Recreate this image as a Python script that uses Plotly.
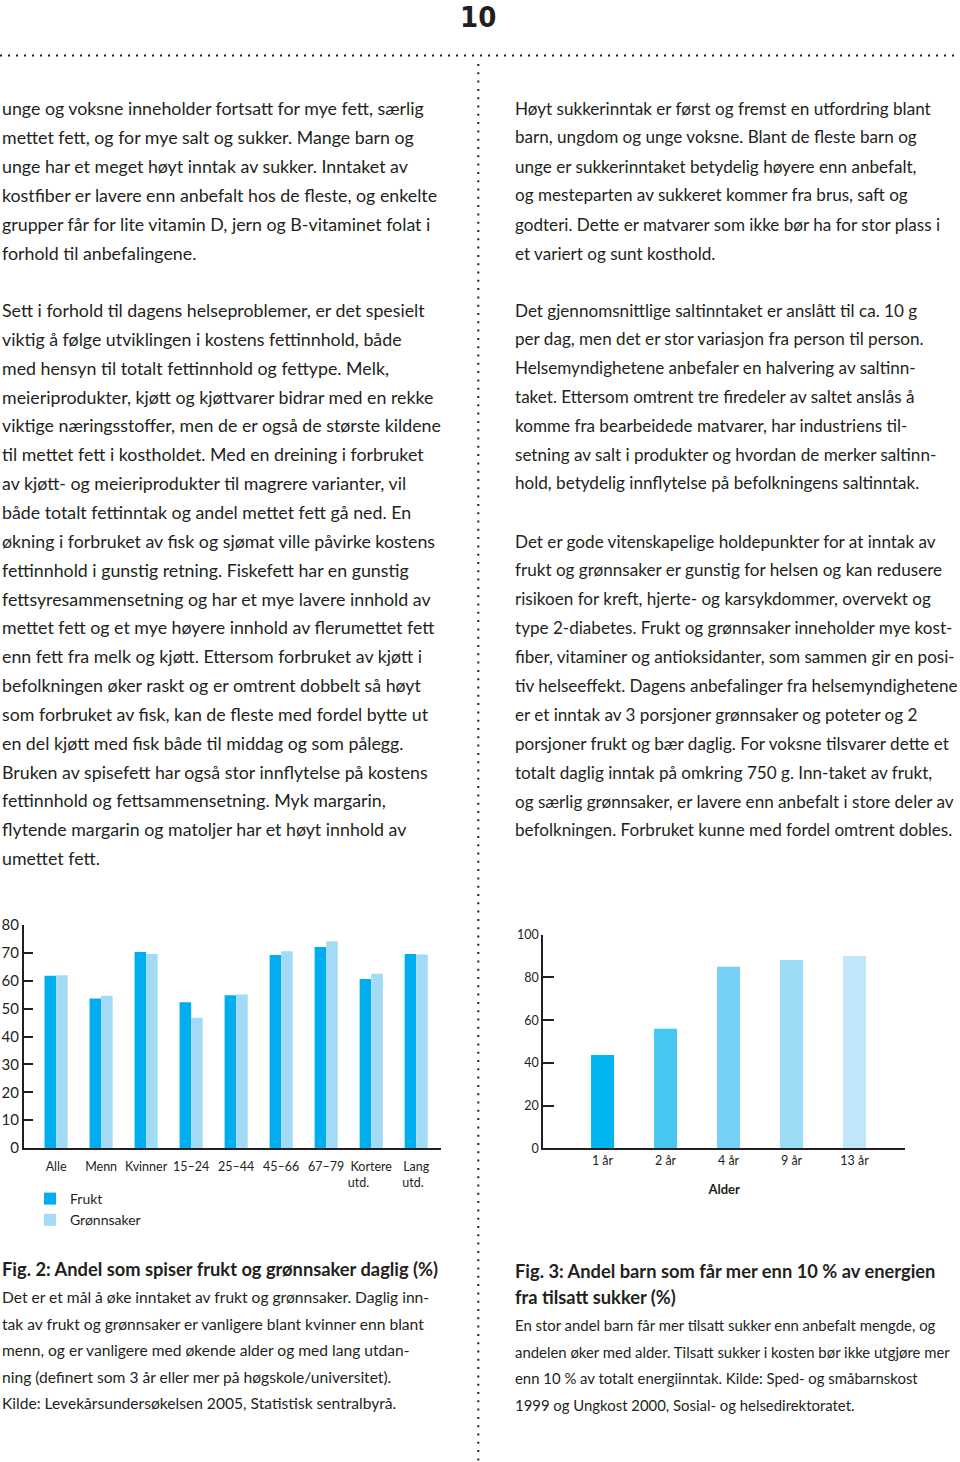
import plotly.graph_objects as go

# ---------------- data ----------------
# Fig. 2: Andel som spiser frukt og grønnsaker daglig (%)
NB = "\u00a0"
groups = ["Alle", "Menn", "Kvinner", "15–24", "25–44", "45–66", "67–79",
          "Kortere<br>utd." + NB * 8, "Lang<br>utd." + NB * 2]
frukt = [61.8, 53.6, 70.3, 52.3, 54.8, 69.2, 72.1, 60.6, 69.6]
gronnsaker = [62.0, 54.6, 69.6, 46.7, 55.1, 70.6, 74.2, 62.5, 69.4]
fig2_yticks = [0, 10, 20, 30, 40, 50, 60, 70, 80]

# Fig. 3: Andel barn som får mer enn 10 % av energien fra tilsatt sukker (%)
ages = ["1 år", "2 år", "4 år", "9 år", "13 år"]
sugar_share = [43.7, 56.0, 85.0, 88.1, 90.0]
fig3_yticks = [0, 20, 40, 60, 80, 100]

# ---------------- text ----------------
left_a = [
    "unge og voksne inneholder fortsatt for mye fett, særlig",
    "mettet fett, og for mye salt og sukker. Mange barn og",
    "unge har et meget høyt inntak av sukker. Inntaket av",
    "kostfiber er lavere enn anbefalt hos de fleste, og enkelte",
    "grupper får for lite vitamin D, jern og B-vitaminet folat i",
    "forhold til anbefalingene.",
]
left_b = [
    "Sett i forhold til dagens helseproblemer, er det spesielt",
    "viktig å følge utviklingen i kostens fettinnhold, både",
    "med hensyn til totalt fettinnhold og fettype. Melk,",
    "meieriprodukter, kjøtt og kjøttvarer bidrar med en rekke",
    "viktige næringsstoffer, men de er også de største kildene",
    "til mettet fett i kostholdet. Med en dreining i forbruket",
    "av kjøtt- og meieriprodukter til magrere varianter, vil",
    "både totalt fettinntak og andel mettet fett gå ned. En",
    "økning i forbruket av fisk og sjømat ville påvirke kostens",
    "fettinnhold i gunstig retning. Fiskefett har en gunstig",
    "fettsyresammensetning og har et mye lavere innhold av",
    "mettet fett og et mye høyere innhold av flerumettet fett",
    "enn fett fra melk og kjøtt. Ettersom forbruket av kjøtt i",
    "befolkningen øker raskt og er omtrent dobbelt så høyt",
    "som forbruket av fisk, kan de fleste med fordel bytte ut",
    "en del kjøtt med fisk både til middag og som pålegg.",
    "Bruken av spisefett har også stor innflytelse på kostens",
    "fettinnhold og fettsammensetning. Myk margarin,",
    "flytende margarin og matoljer har et høyt innhold av",
    "umettet fett.",
]
right_a = [
    "Høyt sukkerinntak er først og fremst en utfordring blant",
    "barn, ungdom og unge voksne. Blant de fleste barn og",
    "unge er sukkerinntaket betydelig høyere enn anbefalt,",
    "og mesteparten av sukkeret kommer fra brus, saft og",
    "godteri. Dette er matvarer som ikke bør ha for stor plass i",
    "et variert og sunt kosthold.",
]
right_b = [
    "Det gjennomsnittlige saltinntaket er anslått til ca. 10 g",
    "per dag, men det er stor variasjon fra person til person.",
    "Helsemyndighetene anbefaler en halvering av saltinn-",
    "taket. Ettersom omtrent tre firedeler av saltet anslås å",
    "komme fra bearbeidede matvarer, har industriens til-",
    "setning av salt i produkter og hvordan de merker saltinn-",
    "hold, betydelig innflytelse på befolkningens saltinntak.",
]
right_c = [
    "Det er gode vitenskapelige holdepunkter for at inntak av",
    "frukt og grønnsaker er gunstig for helsen og kan redusere",
    "risikoen for kreft, hjerte- og karsykdommer, overvekt og",
    "type 2-diabetes. Frukt og grønnsaker inneholder mye kost-",
    "fiber, vitaminer og antioksidanter, som sammen gir en posi-",
    "tiv helseeffekt. Dagens anbefalinger fra helsemyndighetene",
    "er et inntak av 3 porsjoner grønnsaker og poteter og 2",
    "porsjoner frukt og bær daglig. For voksne tilsvarer dette et",
    "totalt daglig inntak på omkring 750 g. Inn-taket av frukt,",
    "og særlig grønnsaker, er lavere enn anbefalt i store deler av",
    "befolkningen. Forbruket kunne med fordel omtrent dobles.",
]
cap2_title = ["Fig. 2: Andel som spiser frukt og grønnsaker daglig (%)"]
cap2_body = [
    "Det er et mål å øke inntaket av frukt og grønnsaker. Daglig inn-",
    "tak av frukt og grønnsaker er vanligere blant kvinner enn blant",
    "menn, og er vanligere med økende alder og med lang utdan-",
    "ning (definert som 3 år eller mer på høgskole/universitet).",
    "Kilde: Levekårsundersøkelsen 2005, Statistisk sentralbyrå.",
]
cap3_title = [
    "Fig. 3: Andel barn som får mer enn 10 % av energien",
    "fra tilsatt sukker (%)",
]
cap3_body = [
    "En stor andel barn får mer tilsatt sukker enn anbefalt mengde, og",
    "andelen øker med alder. Tilsatt sukker i kosten bør ikke utgjøre mer",
    "enn 10 % av totalt energiinntak. Kilde: Sped- og småbarnskost",
    "1999 og Ungkost 2000, Sosial- og helsedirektoratet.",
]

# ---------------- layout helpers ----------------
W, H = 960, 1462
FONT = "Lato, 'Noto Sans', sans-serif"
INK = "#231f20"
C_FRUKT = "#00aeef"
C_GRONN = "#a3dbf6"
sugar_colors = ["#00b5ef", "#45c7f2", "#74d0f4", "#9cdaf6", "#bfe6f9"]


def px(x):
    return x / W


def py(y):
    return 1 - y / H


fig = go.Figure()

# Fig. 2 bars
xpos1 = list(range(len(groups)))
bw1 = 0.257
fig.add_trace(go.Bar(x=xpos1, y=frukt, name="Frukt", marker_color=C_FRUKT,
                     width=bw1, offset=-bw1, xaxis="x", yaxis="y",
                     marker_line_width=0))
fig.add_trace(go.Bar(x=xpos1, y=gronnsaker, name="Grønnsaker", marker_color=C_GRONN,
                     width=bw1, offset=0, xaxis="x", yaxis="y",
                     marker_line_width=0))

# Fig. 3 bars
xpos2 = list(range(len(ages)))
fig.add_trace(go.Bar(x=xpos2, y=sugar_share, marker_color=sugar_colors,
                     width=0.365, xaxis="x2", yaxis="y2", showlegend=False,
                     marker_line_width=0))

annotations = []


def add_block(lines, x0, y0, step, size, bold=False):
    for i, t in enumerate(lines):
        annotations.append(dict(
            text=f"<b>{t}</b>" if bold else t,
            x=px(x0), y=py(y0 + i * step), xref="paper", yref="paper",
            xanchor="left", yanchor="middle", showarrow=False,
            font=dict(family=FONT, size=size, color=INK)))


add_block(left_a, 0, 108, 29, 17.8)
add_block(left_b, 0, 310, 28.85, 17.8)
add_block(right_a, 513, 108, 29, 17.1)
add_block(right_b, 513, 310, 28.83, 17.1)
add_block(right_c, 513, 541, 28.9, 17.1)
add_block(cap2_title, 0, 1269, 26, 18.3, bold=True)
add_block(cap2_body, 0, 1297, 26.5, 15.6)
add_block(cap3_title, 513, 1271, 26, 18.3, bold=True)
add_block(cap3_body, 513, 1325, 26.67, 14.9)

# page number
annotations.append(dict(text="<b>10</b>", x=px(478), y=py(17.5), xref="paper", yref="paper",
                        xanchor="center", yanchor="middle", showarrow=False,
                        font=dict(family="'Liberation Sans Narrow', 'DejaVu Sans Condensed', Lato, sans-serif",
                                  size=29, color=INK)))

shapes = [
    dict(type="line", xref="paper", yref="paper", x0=0, x1=1, y0=py(55.5), y1=py(55.5),
         line=dict(color=INK, width=2, dash="2px,6px")),
    dict(type="line", xref="paper", yref="paper", x0=px(478.3), x1=px(478.3), y0=py(64), y1=0,
         line=dict(color=INK, width=2, dash="2px,6.3px")),
]

fig.update_layout(
    width=W, height=H, margin=dict(l=0, r=0, t=0, b=0, pad=0),
    paper_bgcolor="white", plot_bgcolor="white",
    font=dict(family=FONT, color=INK),
    barmode="group",
    annotations=annotations, shapes=shapes,
    showlegend=True,
    legend=dict(x=px(30), y=py(1183), xanchor="left", yanchor="top",
                font=dict(family=FONT, size=14, color=INK), bgcolor="rgba(0,0,0,0)",
                itemwidth=30, tracegroupgap=0),
    xaxis=dict(domain=[px(24), px(441)], range=[-0.713, 8.55],
               tickmode="array", tickvals=xpos1, ticktext=groups,
               showline=True, linecolor=INK, linewidth=2, ticks="",
               showgrid=False, zeroline=False, fixedrange=True, automargin=False,
               ticklabelstandoff=6,
               tickfont=dict(family=FONT, size=12.5, color=INK)),
    yaxis=dict(domain=[py(1148), py(925)], range=[0, 80],
               tickmode="array", tickvals=fig2_yticks,
               showline=True, linecolor=INK, linewidth=2,
               ticks="inside", ticklen=9, tickwidth=2, tickcolor=INK,
               showgrid=False, zeroline=False, fixedrange=True, automargin=False,
               tickfont=dict(family=FONT, size=15, color=INK)),
    xaxis2=dict(domain=[px(543.3), px(905)], range=[-0.94, 4.80], anchor="y2",
                tickmode="array", tickvals=xpos2, ticktext=ages,
                showline=True, linecolor=INK, linewidth=2, ticks="",
                showgrid=False, zeroline=False, fixedrange=True, automargin=False,
                ticklabelstandoff=0,
                tickfont=dict(family=FONT, size=12.5, color=INK),
                title=dict(text="<b>Alder</b>", font=dict(family=FONT, size=13, color=INK), standoff=18)),
    yaxis2=dict(domain=[py(1148.3), py(934.7)], range=[0, 100], anchor="x2",
                tickmode="array", tickvals=fig3_yticks,
                showline=True, linecolor=INK, linewidth=2,
                ticks="inside", ticklen=11, tickwidth=2, tickcolor=INK,
                showgrid=False, zeroline=False, fixedrange=True, automargin=False,
                tickfont=dict(family=FONT, size=12.5, color=INK)),
)

fig.write_html(
    "out.html",
    config={"displayModeBar": False},
    post_script="document.documentElement.style.margin='0';document.body.style.margin='0';document.body.style.padding='0';",
)
